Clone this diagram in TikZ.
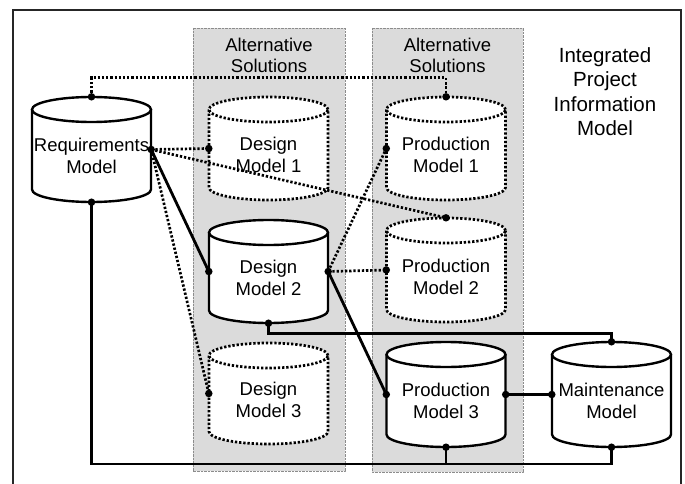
\documentclass[tikz,border=0pt]{standalone}
\usepackage{fontspec}
\setmainfont{Liberation Sans}
\usetikzlibrary{calc}
\tikzset{
  solidln/.style={line width=2.8pt, line join=miter},
  dotln/.style={line width=2.7pt, dash pattern=on 2.3pt off 1.9pt},
  cylsolid/.style={line width=2.4pt},
  cyldot/.style={line width=2.7pt, dash pattern=on 2.3pt off 1.9pt},
  cylbox/.style={inner sep=0pt, minimum width=119pt},
  cyltext/.style={align=center, font=\fontsize{18.5}{22}\selectfont, inner sep=0pt},
  paneltext/.style={align=center, font=\fontsize{18.5}{21.5}\selectfont, inner sep=0pt},
  titletext/.style={align=center, font=\fontsize{20.5}{24.5}\selectfont, inner sep=0pt},
  jdot/.style={circle, fill=black, inner sep=0pt, minimum size=7.5pt},
  panel/.style={fill=black!14, draw=black!45, line width=0.7pt, dash pattern=on 0.7pt off 0.7pt},
  frame/.style={draw=black!85, line width=2.2pt},
}
% name, cx, ytop, ybot, style, text
\newcommand\mycylinder[6]{%
  \node[cylbox, minimum height={(#4-#3)*1pt}] (#1) at ({#2},{-(#3+#4)/2}) {};
  \fill[white] ({#2-59.5},{-#3-12.5}) -- ({#2-59.5},{-#4+12.5})
     arc[start angle=180,end angle=360,x radius=59.5,y radius=12.5]
     -- ({#2+59.5},{-#3-12.5}) -- cycle;
  \draw[#5] ({#2-59.5},{-#3-12.5}) -- ({#2-59.5},{-#4+12.5})
     arc[start angle=180,end angle=360,x radius=59.5,y radius=12.5]
     -- ({#2+59.5},{-#3-12.5});
  \draw[#5, fill=white] ({#2},{-#3-12.5}) ellipse [x radius=59.5, y radius=12.5];
  \node[cyltext] (#1t) at ({#2},{-(#3+#4)/2-6.5}) {#6};
}
\begin{document}
\begin{tikzpicture}[x=1pt,y=1pt]
\useasboundingbox (0,0) rectangle (685,-484);
\clip (0,0) rectangle (685,-484);
\fill[white] (0,0) rectangle (685,-484);
\draw[frame] (13,-10) rectangle (681,-520);

% panels
\draw[panel] (193,-28) rectangle (345,-471);
\draw[panel] (372,-28) rectangle (523,-472);
\node[paneltext] (alt1) at (269,-55.5) {Alternative\\Solutions};
\node[paneltext] (alt2) at (447.5,-55.5) {Alternative\\Solutions};
\node[titletext] (title) at (605,-91.5) {Integrated\\Project\\Information\\Model};

% cylinders
\mycylinder{req}{91.5}{97}{202}{cylsolid}{Requirements\\Model}
\mycylinder{dm1}{268.5}{97}{200}{cyldot}{Design\\Model 1}
\mycylinder{dm2}{268.5}{220}{323}{cylsolid}{Design\\Model 2}
\mycylinder{dm3}{268.5}{343}{444}{cyldot}{Design\\Model 3}
\mycylinder{pm1}{446}{97}{200}{cyldot}{Production\\Model 1}
\mycylinder{pm2}{446}{218}{322}{cyldot}{Production\\Model 2}
\mycylinder{pm3}{446}{342}{447}{cylsolid}{Production\\Model 3}
\mycylinder{mnt}{611.5}{342}{447}{cylsolid}{Maintenance\\Model}

% connectors
\coordinate (bus) at (0,-464);
\draw[dotln] (req.north) -- ++(0,19) -| (pm1.north);
\draw[dotln] (req.east) -- (dm1.west);
\draw[dotln] (req.east) -- (pm2.north);
\draw[solidln] (req.east) -- (dm2.west);
\draw[dotln] (req.east) -- (dm3.west);
\draw[dotln] (dm2.east) -- (pm1.west);
\draw[dotln] (dm2.east) -- (pm2.west);
\draw[solidln] (dm2.east) -- (pm3.west);
\draw[solidln] (pm3.east) -- (mnt.west);
\draw[solidln] (dm2.south) -- ++(0,-10) -| (mnt.north);
\draw[solidln] (req.south) |- (mnt.south |- bus) -- (mnt.south);
\draw[solidln] (pm3.south) -- (pm3.south |- bus);

% junction dots
\foreach \a [count=\i] in {req.north, req.east, req.south, pm1.north, pm2.north,
  dm1.west, dm2.west, dm3.west, dm2.east, dm2.south, pm1.west, pm2.west,
  pm3.west, pm3.east, pm3.south, mnt.west, mnt.north, mnt.south}
  \node[jdot] (j\i) at (\a) {};
\end{tikzpicture}
\end{document}
